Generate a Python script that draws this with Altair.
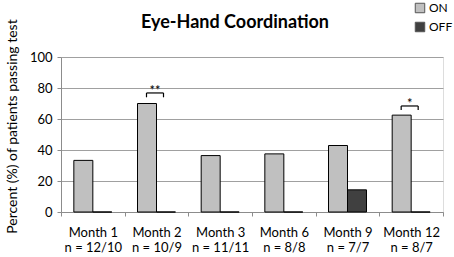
import altair as alt
import pandas as pd

months = ["Month 1", "Month 2", "Month 3", "Month 6", "Month 9", "Month 12"]
n_labels = ["n = 12/10", "n = 10/9", "n = 11/11", "n = 8/8", "n = 7/7", "n = 8/7"]
series = ["ON", "OFF"]
on_values = [33.3, 70.0, 36.4, 37.5, 42.9, 62.5]
off_values = [0.0, 0.0, 0.0, 0.0, 14.3, 0.0]
sig_months = ["Month 2", "Month 12"]
sig_labels = ["**", "*"]
sig_top = [76.8, 68.4]
sig_bottom = [74.0, 65.8]
y_ticks = [0, 20, 40, 60, 80, 100]

cats = [m + "|" + n for m, n in zip(months, n_labels)]
cat_of = dict(zip(months, cats))

rows = []
for c, on, off in zip(cats, on_values, off_values):
    rows.append({"cat": c, "series": "ON", "value": on})
    rows.append({"cat": c, "series": "OFF", "value": off})
bars_df = pd.DataFrame(rows)

sig_df = pd.DataFrame({
    "cat": [cat_of[m] for m in sig_months],
    "label": sig_labels,
    "top": sig_top,
    "bottom": sig_bottom,
})

FONT = "Lato"

x_axis = alt.Axis(
    title=None,
    labelExpr="split(datum.label, '|')",
    labelAngle=0,
    tickBand="extent",
    domainColor="#8c8c8c",
    tickColor="#8c8c8c",
    tickSize=4,
    labelFontSize=13,
    labelFont=FONT,
    labelColor="#000000",
    labelPadding=10,
    labelLineHeight=15,
)
x_scale = alt.Scale(paddingInner=0, paddingOuter=0)

y_axis = alt.Axis(
    title="Percent (%) of patients passing test",
    values=y_ticks,
    labelOverlap=False,
    grid=True,
    gridColor="#a0a0a0",
    domainColor="#8c8c8c",
    tickColor="#8c8c8c",
    tickSize=4,
    labelFontSize=13,
    labelFont=FONT,
    labelColor="#000000",
    labelPadding=5,
    titleFont=FONT,
    titleFontSize=14,
    titleFontWeight="normal",
    titleColor="#000000",
    titlePadding=10,
    titleY=69,
)
y_scale = alt.Scale(domain=[0, 100], nice=False)

bars = alt.Chart(bars_df).mark_bar(stroke="#000000", strokeWidth=1).encode(
    x=alt.X("cat:N", sort=cats, scale=x_scale, axis=x_axis),
    xOffset=alt.XOffset(
        "series:N", sort=series,
        scale=alt.Scale(paddingOuter=0.676, paddingInner=0),
    ),
    y=alt.Y("value:Q", scale=y_scale, axis=y_axis),
    color=alt.Color(
        "series:N",
        sort=series,
        scale=alt.Scale(domain=series, range=["#c0c0c0", "#404040"]),
        legend=alt.Legend(
            title=None,
            orient="none",
            legendX=353,
            legendY=-55,
            symbolType="square",
            symbolSize=90,
            symbolStrokeColor="#555555",
            symbolStrokeWidth=1,
            labelFont=FONT,
            labelFontSize=12,
            labelColor="#000000",
            rowPadding=5,
            labelOffset=3,
        ),
    ),
)

x_plain = alt.X("cat:N", sort=cats, scale=x_scale, axis=x_axis)
y_top = alt.Y("top:Q", scale=y_scale, axis=y_axis)

bracket_top = alt.Chart(sig_df).mark_rule(
    color="#000000", strokeWidth=1.2, xOffset=-10, x2Offset=7
).encode(x=x_plain, x2="cat:N", y=y_top)

leg_left = alt.Chart(sig_df).mark_rule(
    color="#000000", strokeWidth=1.2, xOffset=-10
).encode(x=x_plain, y=y_top, y2="bottom:Q")

leg_right = alt.Chart(sig_df).mark_rule(
    color="#000000", strokeWidth=1.2, xOffset=7
).encode(x=x_plain, y=y_top, y2="bottom:Q")

stars = alt.Chart(sig_df).mark_text(
    font=FONT, fontSize=13, baseline="alphabetic", align="center", dx=-1.5, dy=2, color="#000000"
).encode(x=x_plain, y=y_top, text="label:N")

chart = alt.layer(bars, bracket_top, leg_left, leg_right, stars).properties(
    width=382,
    height=155,
    autosize=alt.AutoSizeParams(type="none"),
    padding={"left": 61, "top": 57, "right": 11, "bottom": 45},
    title=alt.TitleParams(
        "Eye-Hand Coordination",
        font=FONT,
        fontSize=18,
        fontWeight="bold",
        color="#000000",
        anchor="middle",
        dx=-17,
        offset=-30,
    ),
).configure_view(stroke=None).configure(background="#ffffff")

chart.save("out.html", embed_options={"renderer": "svg", "actions": False})
